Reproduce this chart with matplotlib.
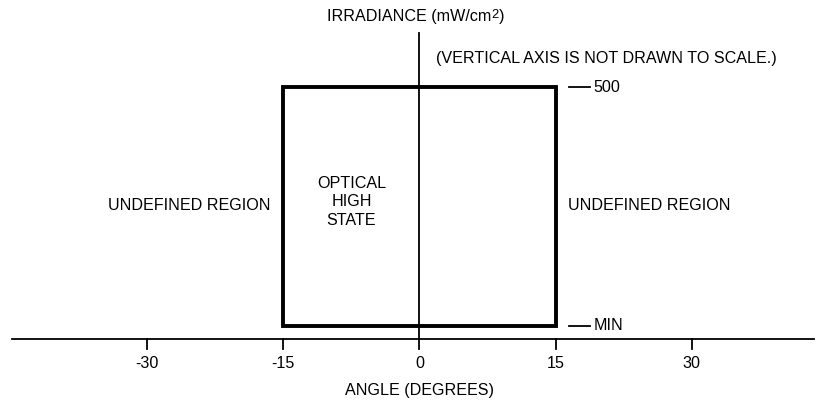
import matplotlib.pyplot as plt
from matplotlib.patches import Rectangle

# Angle axis (degrees)
angle_ticks = [-30, -15, 0, 15, 30]
angle_range = (-44.9, 43.4)

# Optical high state window
high_state_angles = (-15, 15)

# Irradiance levels (vertical axis not drawn to scale, arbitrary positions)
level_labels = ["MIN", "500"]
level_pos = [13, 252]
axis_top = 306

plt.rcParams['font.family'] = ['Liberation Sans', 'DejaVu Sans']

fig = plt.figure(figsize=(8.27, 4.0), dpi=100)
ax = fig.add_axes([0, 0, 1, 1])
ax.set_xlim(-46.2, 44.88)
ax.set_ylim(-61, 339)
ax.axis('off')

fs = 11.6

# horizontal axis
ax.plot(angle_range, [0, 0], color='black', lw=1.3)
for t in angle_ticks:
    ax.plot([t, t], [0, -10], color='black', lw=1.3)
    ax.text(t, -24, str(t), ha='center', va='center', fontsize=fs)
ax.text(0, -51, "ANGLE (DEGREES)", ha='center', va='center', fontsize=fs)

# vertical axis
ax.plot([0, 0], [0, axis_top], color='black', lw=1.3)

# axis title with a small raised "2"
label = ax.text(-1.1, 322, "IRRADIANCE (mW/cm", ha='center', va='center', fontsize=fs)
fig.canvas.draw()
bb = label.get_window_extent().transformed(ax.transData.inverted())
sup = ax.text(bb.x1, 324, "2", ha='left', va='center', fontsize=fs * 0.8)
fig.canvas.draw()
bb2 = sup.get_window_extent().transformed(ax.transData.inverted())
ax.text(bb2.x1, 322, ")", ha='left', va='center', fontsize=fs)

ax.text(1.8, 280, "(VERTICAL AXIS IS NOT DRAWN TO SCALE.)", ha='left', va='center', fontsize=fs)

# high state box
x0, x1 = high_state_angles
ax.add_patch(Rectangle((x0, level_pos[0]), x1 - x0, level_pos[1] - level_pos[0],
                       fill=False, ec='black', lw=2.8))
ax.text(x0 / 2, 137, "OPTICAL\nHIGH\nSTATE", ha='center', va='center',
        fontsize=fs, linespacing=1.3)

# level markers
for lab, y in zip(level_labels, level_pos):
    ax.plot([16.5, 18.8], [y, y], color='black', lw=1.3)
    ax.text(19.2, y, lab, ha='left', va='center', fontsize=fs)

# region labels
ax.text(-25.4, 134, "UNDEFINED REGION", ha='center', va='center', fontsize=fs)
ax.text(25.3, 134, "UNDEFINED REGION", ha='center', va='center', fontsize=fs)

fig.savefig("out.png", dpi=100)
